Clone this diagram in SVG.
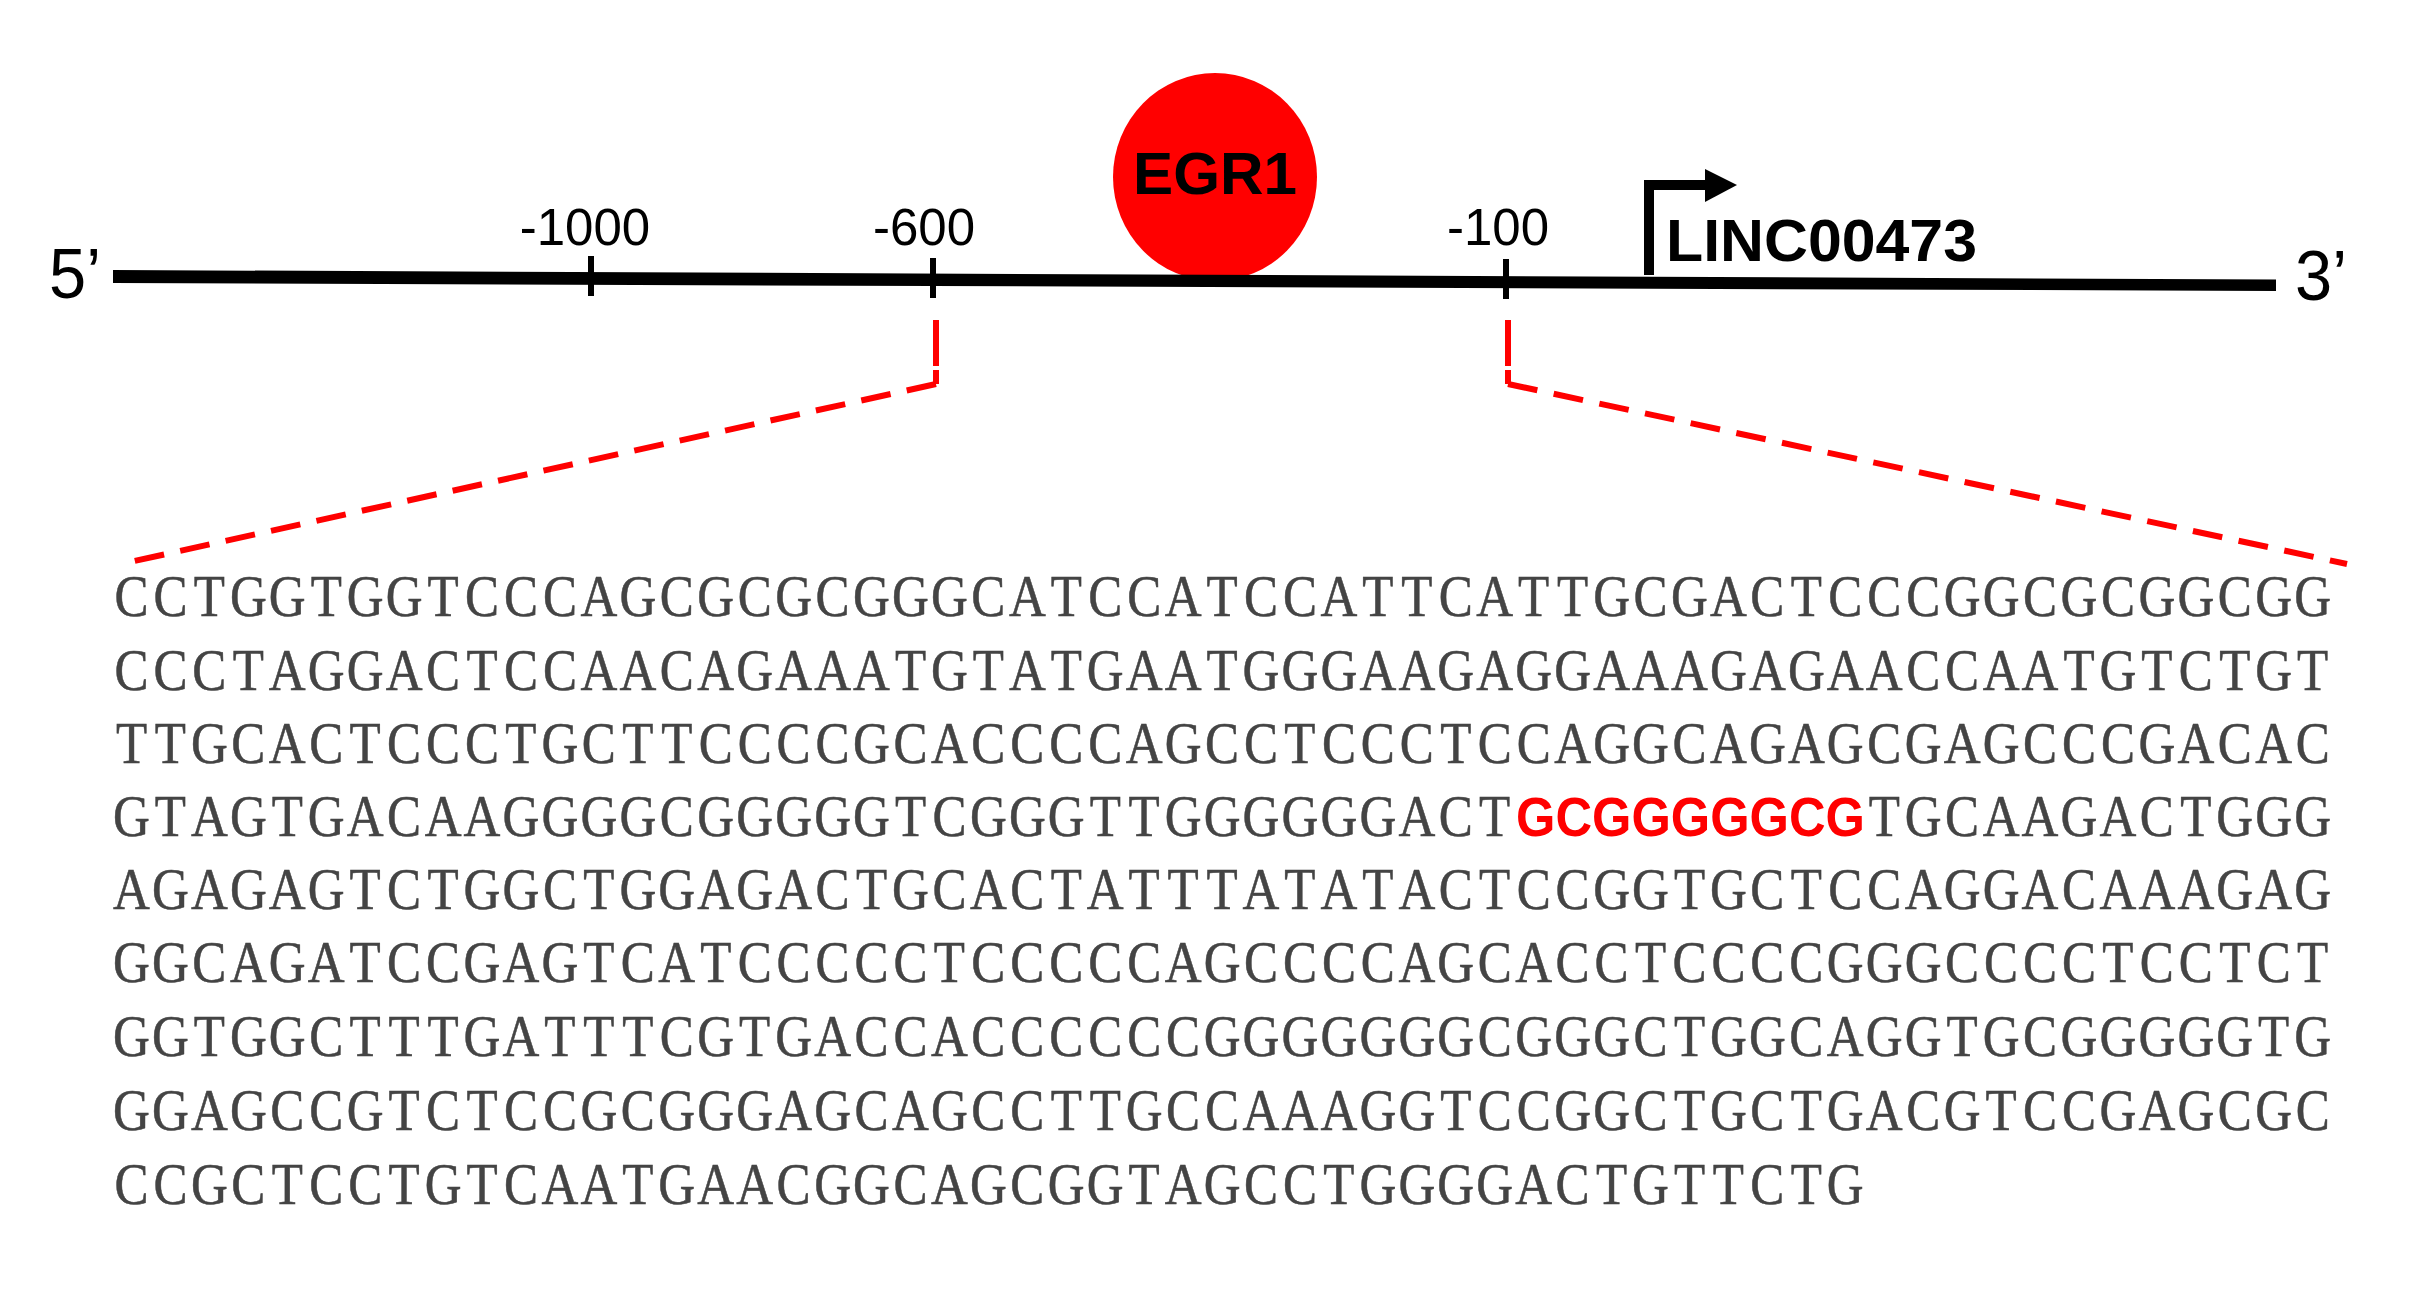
<svg xmlns="http://www.w3.org/2000/svg" width="2409" height="1292" viewBox="0 0 2409 1292">
<style>
.seq{font-family:"Liberation Serif",serif;font-size:65.5px;fill:#444;text-anchor:middle;stroke:#444;stroke-width:.6;}
.hit{font-family:"Liberation Sans",Arial,sans-serif;font-size:55px;font-weight:bold;fill:#f00;}
.pos{font-family:"Liberation Sans",Arial,sans-serif;font-size:51px;fill:#000;text-anchor:middle;}
.end{font-family:"Liberation Sans",Arial,sans-serif;font-size:70px;fill:#000;}
.bold{font-family:"Liberation Sans",Arial,sans-serif;font-weight:bold;fill:#000;}
.tick{stroke:#000;stroke-width:6;fill:none;}
.zoom{stroke:#f00;stroke-width:6;fill:none;}
.d1{stroke-dasharray:30 16.5;}
.d3{stroke-dasharray:30 16.7;}
.d2{stroke-dasharray:46 4;}
</style>
<rect width="2409" height="1292" fill="#fff"/>
<g id="egr1">
<ellipse cx="1215" cy="177" rx="102" ry="104" fill="#f00"/>
<text class="bold" x="1133" y="194" font-size="59" textLength="164" lengthAdjust="spacingAndGlyphs">EGR1</text>
</g>
<g id="backbone">
<polygon points="113,270 2276,279.5 2276,291 113,283" fill="#000"/>
<text class="end" x="49" y="298" textLength="52" lengthAdjust="spacingAndGlyphs">5’</text>
<text class="end" x="2295" y="300" textLength="52" lengthAdjust="spacingAndGlyphs">3’</text>
</g>
<g id="pos-1000"><line class="tick" x1="591" y1="256" x2="591" y2="296"/><text class="pos" x="585" y="245">-1000</text></g>
<g id="pos-600"><line class="tick" x1="933" y1="258" x2="933" y2="298"/><text class="pos" x="924" y="245">-600</text></g>
<g id="pos-100"><line class="tick" x1="1506" y1="259" x2="1506" y2="299"/><text class="pos" x="1498" y="245">-100</text></g>
<g id="linc00473">
<path d="M1649 275V185H1707" fill="none" stroke="#000" stroke-width="10"/>
<polygon points="1705,169 1737,185 1705,202" fill="#000"/>
<text class="bold" x="1666" y="261" font-size="60" textLength="311" lengthAdjust="spacingAndGlyphs">LINC00473</text>
</g>
<g id="connectors">
<path class="zoom d2" d="M936 320V384"/>
<path class="zoom d1" d="M936 384L134.500 561"/>
<path class="zoom d2" d="M1508 320V384"/>
<path class="zoom d3" d="M1508 384L2347 564"/>
</g>
<g id="sequence">
<text class="seq" transform="translate(112,616) scale(.779,.916)" x="25 75 125 175 225 275 325 375 425 475 525 575 625 675 725 775 825 875 925 975 1025 1075 1125 1175 1225 1275 1325 1375 1425 1475 1525 1575 1625 1675 1725 1775 1825 1875 1925 1975 2025 2075 2125 2175 2225 2275 2325 2375 2425 2475 2525 2575 2625 2675 2725 2775 2825">CCTGGTGGTCCCAGCGCGCGGGCATCCATCCATTCATTGCGACTCCCGGCGCGGCGG</text>
<text class="seq" transform="translate(112,690) scale(.779,.916)" x="25 75 125 175 225 275 325 375 425 475 525 575 625 675 725 775 825 875 925 975 1025 1075 1125 1175 1225 1275 1325 1375 1425 1475 1525 1575 1625 1675 1725 1775 1825 1875 1925 1975 2025 2075 2125 2175 2225 2275 2325 2375 2425 2475 2525 2575 2625 2675 2725 2775 2825">CCCTAGGACTCCAACAGAAATGTATGAATGGGAAGAGGAAAGAGAACCAATGTCTGT</text>
<text class="seq" transform="translate(112,763) scale(.779,.916)" x="25 75 125 175 225 275 325 375 425 475 525 575 625 675 725 775 825 875 925 975 1025 1075 1125 1175 1225 1275 1325 1375 1425 1475 1525 1575 1625 1675 1725 1775 1825 1875 1925 1975 2025 2075 2125 2175 2225 2275 2325 2375 2425 2475 2525 2575 2625 2675 2725 2775 2825">TTGCACTCCCTGCTTCCCCGCACCCCAGCCTCCCTCCAGGCAGAGCGAGCCCGACAC</text>
<text class="seq" transform="translate(112,836) scale(.779,.916)" x="25 75 125 175 225 275 325 375 425 475 525 575 625 675 725 775 825 875 925 975 1025 1075 1125 1175 1225 1275 1325 1375 1425 1475 1525 1575 1625 1675 1725 1775">GTAGTGACAAGGGGCGGGGGTCGGGTTGGGGGGACT</text>
<text class="hit" x="1516" y="836" textLength="349" lengthAdjust="spacingAndGlyphs">GCGGGGGCG</text>
<text class="seq" transform="translate(112,836) scale(.779,.916)" x="2275 2325 2375 2425 2475 2525 2575 2625 2675 2725 2775 2825">TGCAAGACTGGG</text>
<text class="seq" transform="translate(112,909) scale(.779,.916)" x="25 75 125 175 225 275 325 375 425 475 525 575 625 675 725 775 825 875 925 975 1025 1075 1125 1175 1225 1275 1325 1375 1425 1475 1525 1575 1625 1675 1725 1775 1825 1875 1925 1975 2025 2075 2125 2175 2225 2275 2325 2375 2425 2475 2525 2575 2625 2675 2725 2775 2825">AGAGAGTCTGGCTGGAGACTGCACTATTTATATACTCCGGTGCTCCAGGACAAAGAG</text>
<text class="seq" transform="translate(112,982) scale(.779,.916)" x="25 75 125 175 225 275 325 375 425 475 525 575 625 675 725 775 825 875 925 975 1025 1075 1125 1175 1225 1275 1325 1375 1425 1475 1525 1575 1625 1675 1725 1775 1825 1875 1925 1975 2025 2075 2125 2175 2225 2275 2325 2375 2425 2475 2525 2575 2625 2675 2725 2775 2825">GGCAGATCCGAGTCATCCCCCTCCCCCAGCCCCAGCACCTCCCCGGGCCCCTCCTCT</text>
<text class="seq" transform="translate(112,1056) scale(.779,.916)" x="25 75 125 175 225 275 325 375 425 475 525 575 625 675 725 775 825 875 925 975 1025 1075 1125 1175 1225 1275 1325 1375 1425 1475 1525 1575 1625 1675 1725 1775 1825 1875 1925 1975 2025 2075 2125 2175 2225 2275 2325 2375 2425 2475 2525 2575 2625 2675 2725 2775 2825">GGTGGCTTTGATTTCGTGACCACCCCCCGGGGGGGCGGGCTGGCAGGTGCGGGGGTG</text>
<text class="seq" transform="translate(112,1130) scale(.779,.916)" x="25 75 125 175 225 275 325 375 425 475 525 575 625 675 725 775 825 875 925 975 1025 1075 1125 1175 1225 1275 1325 1375 1425 1475 1525 1575 1625 1675 1725 1775 1825 1875 1925 1975 2025 2075 2125 2175 2225 2275 2325 2375 2425 2475 2525 2575 2625 2675 2725 2775 2825">GGAGCCGTCTCCGCGGGAGCAGCCTTGCCAAAGGTCCGGCTGCTGACGTCCGAGCGC</text>
<text class="seq" transform="translate(112,1204) scale(.779,.916)" x="25 75 125 175 225 275 325 375 425 475 525 575 625 675 725 775 825 875 925 975 1025 1075 1125 1175 1225 1275 1325 1375 1425 1475 1525 1575 1625 1675 1725 1775 1825 1875 1925 1975 2025 2075 2125 2175 2225">CCGCTCCTGTCAATGAACGGCAGCGGTAGCCTGGGGACTGTTCTG</text>
</g>
</svg>
